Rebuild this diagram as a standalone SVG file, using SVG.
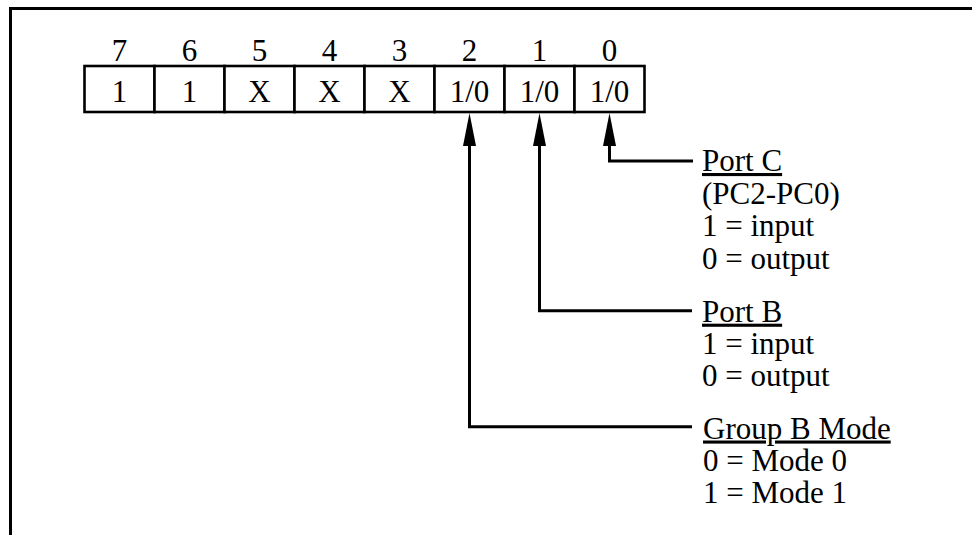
<svg xmlns="http://www.w3.org/2000/svg" width="972" height="535" viewBox="0 0 972 535">
<defs>
<style>
text{font-family:"Liberation Serif","Times New Roman",serif;font-size:31px;fill:#000}
.c{text-anchor:middle}
.u{text-decoration:underline;text-decoration-skip-ink:none}
.cell{fill:#fff;stroke:#000;stroke-width:2.6}
.frame{stroke:#000;stroke-width:3;fill:none}
.conn{stroke:#000;stroke-width:3;fill:none}
</style>
<marker id="ah" viewBox="0 0 33 13" refX="0" refY="6.5" markerWidth="33" markerHeight="13" markerUnits="userSpaceOnUse" orient="auto">
<path d="M0,0 L33,6.5 L0,13 z" fill="#000"/>
</marker>
</defs>
<rect width="972" height="535" fill="#fff"/>
<g id="frame">
<path class="frame" d="M10.5,535 V8.5 H972"/>
</g>
<g id="register">
<g id="bit7"><rect class="cell" x="84.5" y="66" width="70" height="46"/><text class="c" x="119.5" y="61">7</text><text class="c" x="119.5" y="102">1</text></g>
<g id="bit6"><rect class="cell" x="154.5" y="66" width="70" height="46"/><text class="c" x="189.5" y="61">6</text><text class="c" x="189.5" y="102">1</text></g>
<g id="bit5"><rect class="cell" x="224.5" y="66" width="70" height="46"/><text class="c" x="259.5" y="61">5</text><text class="c" x="259.5" y="102">X</text></g>
<g id="bit4"><rect class="cell" x="294.5" y="66" width="70" height="46"/><text class="c" x="329.5" y="61">4</text><text class="c" x="329.5" y="102">X</text></g>
<g id="bit3"><rect class="cell" x="364.5" y="66" width="70" height="46"/><text class="c" x="399.5" y="61">3</text><text class="c" x="399.5" y="102">X</text></g>
<g id="bit2"><rect class="cell" x="434.5" y="66" width="70" height="46"/><text class="c" x="469.5" y="61">2</text><text class="c" x="469.5" y="102">1/0</text></g>
<g id="bit1"><rect class="cell" x="504.5" y="66" width="70" height="46"/><text class="c" x="539.5" y="61">1</text><text class="c" x="539.5" y="102">1/0</text></g>
<g id="bit0"><rect class="cell" x="574.5" y="66" width="70" height="46"/><text class="c" x="609.5" y="61">0</text><text class="c" x="609.5" y="102">1/0</text></g>
</g>
<g id="connectors">
<path class="conn" d="M693,161 H609.5 V146" marker-end="url(#ah)"/>
<path class="conn" d="M692,310.7 H539.5 V146" marker-end="url(#ah)"/>
<path class="conn" d="M692,426.7 H469.5 V146" marker-end="url(#ah)"/>
</g>
<g id="portC">
<text class="u" x="702" y="171">Port C</text>
<text x="702" y="203.5">(PC2-PC0)</text>
<text x="702" y="236">1 = input</text>
<text x="702" y="268.5">0 = output</text>
</g>
<g id="portB">
<text class="u" x="702" y="321.7">Port B</text>
<text x="702" y="354">1 = input</text>
<text x="702" y="386">0 = output</text>
</g>
<g id="groupB">
<text class="u" x="703" y="438.5">Group B Mode</text>
<text x="703" y="470.5">0 = Mode 0</text>
<text x="703" y="502.5">1 = Mode 1</text>
</g>
</svg>
